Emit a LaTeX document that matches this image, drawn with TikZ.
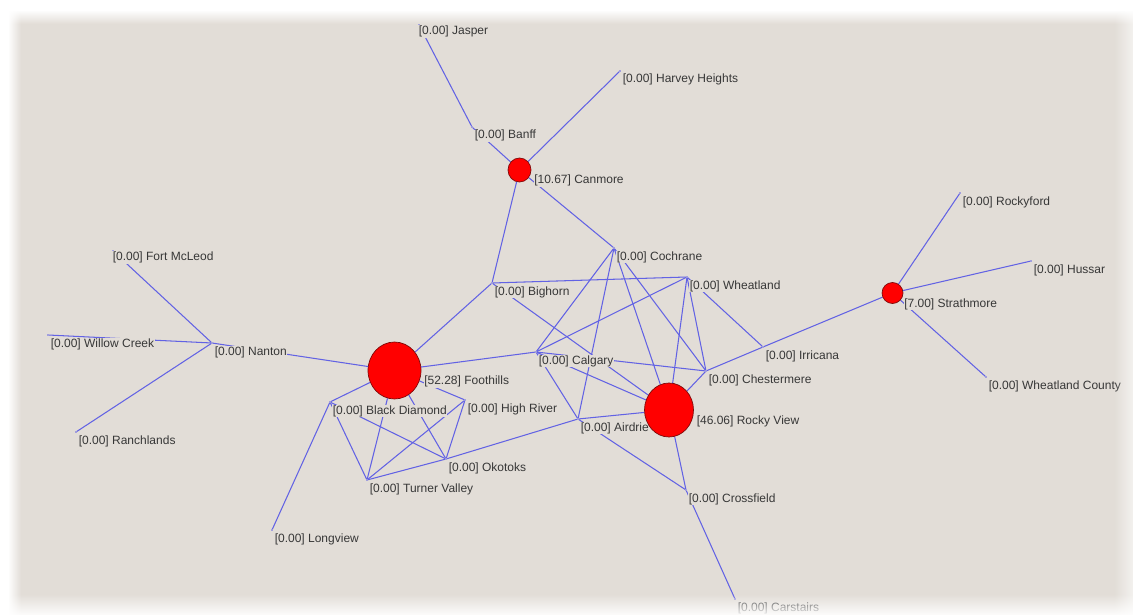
\documentclass[tikz,border=0pt]{standalone}
\usepackage{fontspec}
\setmainfont{Liberation Sans}
\usetikzlibrary{shapes.geometric}
\definecolor{panel}{RGB}{226,221,215}
\definecolor{edgeblue}{RGB}{98,98,228}
\definecolor{ink}{RGB}{55,55,55}
\definecolor{hubred}{RGB}{255,0,0}
\definecolor{hubrim}{RGB}{125,10,10}
\pgfdeclarelayer{paper}
\pgfdeclarelayer{links}
\pgfdeclarelayer{frame}
\pgfsetlayers{paper,links,main,frame}

% a plain town: a small dot with its label set below right
% (optional argument: offset of the label's base point from the dot)
\newcommand\placetown[5][(2,12)]{%
  \node[town] (#2) at (#3,#4) {};
  \node[lbl] (#2-l) at ([shift={#1}]#2.center) {#5};}
% a weighted town: a red disc of the given size, label beside it
\newcommand\placehub[7]{%
  \node[hub, minimum width=#4pt, minimum height=#5pt] (#1) at (#2,#3) {};
  \node[lbl] (#1-l) at ([shift={(#6,14)}]#1.center) {#7};}

\begin{document}
\begin{tikzpicture}[x=1pt,y=-1pt,
  town/.style={circle, fill=edgeblue, inner sep=0pt, minimum size=1.8pt},
  hub/.style={ellipse, fill=hubred, draw=hubrim, line width=0.7pt, inner sep=0pt},
  lbl/.style={anchor=base west, fill=panel, text=ink, inner sep=0.6pt,
              font=\fontsize{12}{14}\selectfont},
  wire/.style={draw=edgeblue, line width=1.05pt}]
\useasboundingbox (0,0) rectangle (1133,615);

\begin{pgfonlayer}{paper}
  \fill[panel] (0,0) rectangle (1133,615);
\end{pgfonlayer}

% towns
\placetown[(-1,9.5)]{jasper}{419}{25}{[0.00] Jasper}
\placetown{harvey}{620}{71}{[0.00] Harvey Heights}
\placetown{banff}{472}{127}{[0.00] Banff}
\placehub{canmore}{519.5}{170}{23}{24}{14}{[10.67] Canmore}
\placetown{cochrane}{614}{248}{[0.00] Cochrane}
\placetown{bighorn}{492}{283}{[0.00] Bighorn}
\placetown{wheatland}{687}{277}{[0.00] Wheatland}
\placetown[(-1,9.5)]{fortmcleod}{113}{251}{[0.00] Fort McLeod}
\placetown{willow}{48}{335}{[0.00] Willow Creek}
\placetown{ranchlands}{76}{432}{[0.00] Ranchlands}
\placetown{nanton}{212}{343}{[0.00] Nanton}
\placehub{foothills}{394.5}{370.5}{53}{57}{29}{[52.28] Foothills}
\placetown{blackdiamond}{330}{402}{[0.00] Black Diamond}
\placetown{highriver}{465}{400}{[0.00] High River}
\placetown{okotoks}{446}{459}{[0.00] Okotoks}
\placetown{turner}{367}{480}{[0.00] Turner Valley}
\placetown{longview}{272}{530}{[0.00] Longview}
\placetown{calgary}{536}{352}{[0.00] Calgary}
\placetown{airdrie}{578}{419}{[0.00] Airdrie}
\placehub{rockyview}{669}{410}{49}{54}{27}{[46.06] Rocky View}
\placetown{chestermere}{706}{371}{[0.00] Chestermere}
\placetown{irricana}{763}{347}{[0.00] Irricana}
\placetown{crossfield}{686}{490}{[0.00] Crossfield}
\placetown{carstairs}{735}{599}{[0.00] Carstairs}
\placehub{strathmore}{892.5}{293}{21}{21}{11}{[7.00] Strathmore}
\placetown{rockyford}{960}{193}{[0.00] Rockyford}
\placetown{hussar}{1031}{261}{[0.00] Hussar}
\placetown{wcounty}{986}{377}{[0.00] Wheatland County}

% links between towns
\begin{pgfonlayer}{links}
\foreach \a/\b in {jasper/banff, banff/canmore, harvey/canmore,
    canmore/bighorn, canmore/cochrane,
    bighorn/foothills, bighorn/wheatland, bighorn/rockyview,
    cochrane/calgary, cochrane/airdrie, cochrane/rockyview, cochrane/chestermere,
    wheatland/calgary, wheatland/rockyview, wheatland/chestermere, wheatland/irricana,
    calgary/foothills, calgary/rockyview, calgary/chestermere, calgary/airdrie,
    chestermere/rockyview, chestermere/irricana, irricana/strathmore,
    strathmore/rockyford, strathmore/hussar, strathmore/wcounty,
    airdrie/rockyview, airdrie/okotoks, airdrie/crossfield,
    rockyview/crossfield, crossfield/carstairs,
    nanton/fortmcleod, nanton/willow, nanton/ranchlands, nanton/foothills,
    foothills/blackdiamond, blackdiamond/longview, foothills/turner,
    foothills/okotoks, foothills/highriver,
    blackdiamond/turner, blackdiamond/okotoks,
    highriver/turner, highriver/okotoks, turner/okotoks}
  \draw[wire] (\a) -- (\b);
\end{pgfonlayer}

% soft white margin round the panel
\begin{pgfonlayer}{frame}
  \fill[white] (0,0) rectangle (1133,10);
  \fill[white] (0,0) rectangle (8,615);
  \foreach \i in {0,...,13}{
    \pgfmathsetmacro\op{1-\i/14}
    \fill[white, opacity=\op] (0,10+\i) rectangle (1133,11+\i);}
  \foreach \i in {0,...,12}{
    \pgfmathsetmacro\op{1-\i/13}
    \fill[white, opacity=\op] (8+\i,0) rectangle (9+\i,615);}
  \foreach \i in {0,...,18}{
    \pgfmathsetmacro\op{0.6*\i/19}
    \fill[white, opacity=\op] (1114+\i,0) rectangle (1115+\i,615);}
  \foreach \i in {0,...,20}{
    \pgfmathsetmacro\op{0.92*\i/21}
    \fill[white, opacity=\op] (0,594+\i) rectangle (1133,595+\i);}
\end{pgfonlayer}
\end{tikzpicture}
\end{document}
